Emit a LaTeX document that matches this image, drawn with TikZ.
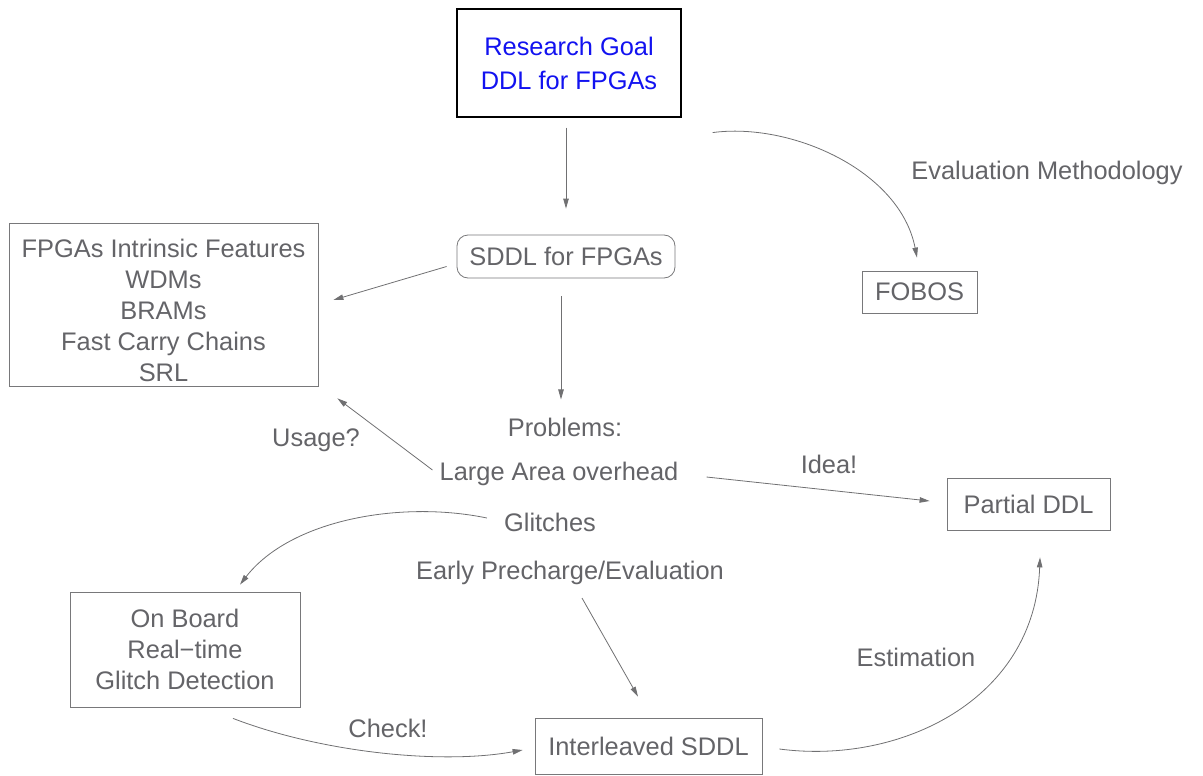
\documentclass[tikz,border=0pt]{standalone}
\usepackage{fontspec}
\setmainfont{Liberation Sans}
\usetikzlibrary{arrows.meta}
\definecolor{ink}{RGB}{100,100,104}
\definecolor{wire}{RGB}{112,112,114}
\definecolor{frame}{RGB}{120,120,122}
\definecolor{goalblue}{RGB}{18,18,240}

\begin{document}
\begin{tikzpicture}[x=1pt,y=-1pt,
  every node/.style={font=\fontsize{25.4}{31}\selectfont, text=ink, align=center, inner sep=0pt},
  box/.style={draw=frame, line width=0.8pt},
  link/.style={draw=wire, line width=0.8pt, -{Triangle[length=10pt,width=5.5pt]}},
]
\useasboundingbox (0,0) rectangle (1203,776);

% boxes
\node[draw=black, line width=1.2pt, minimum width=224, minimum height=108,
      text=goalblue, font=\fontsize{25.4}{34}\selectfont] (goal) at (569,63)
      {Research Goal\\DDL for FPGAs};
\node[box, rounded corners=11pt, minimum width=218, minimum height=43] (sddl) at (566,256.5) {SDDL for FPGAs};
\node[box, minimum width=309, minimum height=163] (feat) at (163.5,304.5) {};
\node (feattext) at ([yshift=-5.5pt]feat.center)
      {FPGAs Intrinsic Features\\WDMs\\BRAMs\\Fast Carry Chains\\SRL};
\node[box, minimum width=115, minimum height=42] (fobos) at (919.5,292) {FOBOS};
\node[box, minimum width=163, minimum height=52] (partial) at (1028.5,504) {Partial DDL};
\node[box, minimum width=230, minimum height=115] (onboard) at (185,649.5)
      {On Board\\Real−time\\Glitch Detection};
\node[box, minimum width=227, minimum height=56] (inter) at (648.5,746) {Interleaved SDDL};

% plain texts
\node (problems) at (565,427) {Problems:};
\node (large) at (559,474) {Large Area overhead};
\node (glitch) at (550,522) {Glitches};
\node (early) at (570,573) {Early Precharge/Evaluation};
\node (usage) at (316,440) {Usage?};
\node (idea) at (829,464) {Idea!};
\node (evalm) at (1047,173) {Evaluation Methodology};
\node (check) at (388,728) {Check!};
\node (estim) at (916,657) {Estimation};

% connectors
\draw[link] ([xshift=-3pt,yshift=-10pt]goal.south) -- ([yshift=26pt]sddl.north);
\draw[link] ([xshift=-10pt,yshift=-10pt]sddl.west) -- ([xshift=15pt,yshift=4.5pt]feat.east);
\draw[link] ([xshift=-5pt,yshift=-18pt]sddl.south) -- ([xshift=-4pt,yshift=18pt]problems.north);
\draw[link] ([xshift=-7pt,yshift=4pt]large.west) -- ([xshift=19pt,yshift=-12pt]feat.south east);
\draw[link] ([xshift=28pt,yshift=-3pt]large.east) -- ([xshift=-17pt,yshift=3pt]partial.west);
\draw[link] ([xshift=12pt,yshift=-13pt]early.south) -- ([xshift=-10.5pt,yshift=21pt]inter.north);
\draw[link] ([xshift=31pt,yshift=-15pt]goal.south east)
  .. controls (790,122) and (900,170) .. ([xshift=-2.5pt,yshift=13pt]fobos.north);
\draw[link] ([xshift=-17pt,yshift=4pt]glitch.west)
  .. controls (400,500) and (290,520) .. ([xshift=55pt,yshift=7pt]onboard.north);
\draw[link] ([xshift=48pt,yshift=-11pt]onboard.south)
  .. controls (320,752) and (440,765) .. ([xshift=-12pt,yshift=-4pt]inter.west);
\draw[link] ([xshift=17pt,yshift=-3pt]inter.east)
  .. controls (900,765) and (1035,700) .. ([xshift=11.5pt,yshift=-27pt]partial.south);
\end{tikzpicture}
\end{document}
